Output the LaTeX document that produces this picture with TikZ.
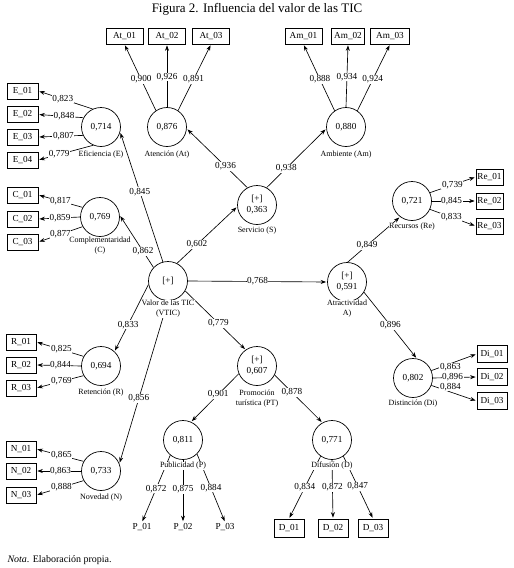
\documentclass[tikz,border=0pt]{standalone}
\usepackage{fontspec}
\setmainfont{Liberation Serif}
\usetikzlibrary{arrows.meta}
\pgfdeclarelayer{back}
\pgfdeclarelayer{bg}
\pgfsetlayers{back,bg,main}
\begin{document}
\begin{tikzpicture}[x=1pt,y=-1pt,
  lv/.style={circle,draw,line width=0.7pt,minimum size=39pt,inner sep=0pt,font=\fontsize{9.2}{11}\selectfont,align=center},
  ind/.style={draw,line width=0.7pt,minimum height=16pt,inner sep=1.5pt,font=\fontsize{9.2}{10}\selectfont},
  ind2/.style={inner sep=1pt,font=\fontsize{9.2}{10}\selectfont},
  ld/.style={fill=white,inner sep=0.6pt,font=\fontsize{9.2}{10}\selectfont},
  cl/.style={fill=white,inner sep=0.5pt,font=\fontsize{8}{10}\selectfont,align=center},
  arr/.style={-{Stealth[length=5.5pt,width=4pt]},line width=0.65pt,shorten >=1pt},
]
\useasboundingbox (0,0) rectangle (514,568);
\begin{pgfonlayer}{back}
\fill[white] (0,0) rectangle (514,568);
\end{pgfonlayer}

\node[font=\fontsize{13}{15}\selectfont] (title) at (257,9) {Figura 2. Influencia del valor de las TIC};

% latent variables
\node[lv] (At) at (167,127) {0,876};
\node[lv] (Am) at (346,127) {0,880};
\node[lv] (E) at (101,127) {0,714};
\node[lv] (C) at (100,217) {0,769};
\node[lv] (V) at (168,281) {[+]};
\node[lv] (S) at (257,205) {[+]\\0,363};
\node[lv] (Re) at (412,201) {0,721};
\node[lv] (A) at (347,282) {[+]\\0,591};
\node[lv] (Di) at (413,378) {0,802};
\node[lv] (PT) at (257,366) {[+]\\0,607};
\node[lv] (P) at (183,440) {0,811};
\node[lv] (D) at (332,440) {0,771};
\node[lv] (R) at (101,366) {0,694};
\node[lv] (N) at (101,471) {0,733};

% indicators
\node[ind,minimum width=37pt] (At1) at (124.5,36) {At\_01};
\node[ind,minimum width=37pt] (At2) at (167,36) {At\_02};
\node[ind,minimum width=37pt] (At3) at (211,36) {At\_03};
\node[ind,minimum width=37pt] (Am1) at (303.5,36) {Am\_01};
\node[ind,minimum width=33pt] (Am2) at (348,36) {Am\_02};
\node[ind,minimum width=39pt] (Am3) at (390,36) {Am\_03};
\node[ind,minimum width=31pt] (E1) at (22.5,91) {E\_01};
\node[ind,minimum width=31pt] (E2) at (22.5,114.5) {E\_02};
\node[ind,minimum width=31pt] (E3) at (22.5,137) {E\_03};
\node[ind,minimum width=31pt] (E4) at (22.5,160) {E\_04};
\node[ind,minimum width=31pt] (C1) at (22.5,195) {C\_01};
\node[ind,minimum width=31pt] (C2) at (22.5,219) {C\_02};
\node[ind,minimum width=31pt] (C3) at (22.5,242) {C\_03};
\node[ind,minimum width=30pt] (R1) at (21,342) {R\_01};
\node[ind,minimum width=30pt] (R2) at (21,365) {R\_02};
\node[ind,minimum width=30pt] (R3) at (21,388) {R\_03};
\node[ind,minimum width=30pt] (N1) at (21,449) {N\_01};
\node[ind,minimum width=30pt] (N2) at (21,471) {N\_02};
\node[ind,minimum width=30pt] (N3) at (21,495) {N\_03};
\node[ind,minimum width=26pt] (Re1) at (489.5,177) {Re\_01};
\node[ind,minimum width=26pt] (Re2) at (489.5,201) {Re\_02};
\node[ind,minimum width=26pt] (Re3) at (489.5,226) {Re\_03};
\node[ind,minimum width=30pt,minimum height=17pt] (Di1) at (492,354) {Di\_01};
\node[ind,minimum width=30pt,minimum height=17pt] (Di2) at (492,377) {Di\_02};
\node[ind,minimum width=30pt,minimum height=17pt] (Di3) at (492,401) {Di\_03};
\node[ind,minimum width=30pt,minimum height=18pt] (D1) at (289,528) {D\_01};
\node[ind,minimum width=30pt,minimum height=18pt] (D2) at (333,528) {D\_02};
\node[ind,minimum width=30pt,minimum height=18pt] (D3) at (373,528) {D\_03};
\node[ind2] (P1) at (142,527) {P\_01};
\node[ind2] (P2) at (183,527) {P\_02};
\node[ind2] (P3) at (225,527) {P\_03};

% construct labels
\node[cl] (Atl) at (167,155) {Atención (At)};
\node[cl] (Aml) at (346,155) {Ambiente (Am)};
\node[cl] (El) at (101,155) {Eficiencia (E)};
\node[cl] (Cl) at (100,246) {Complementaridad\\(C)};
\node[cl] (Vl) at (168,309) {Valor de las TIC\\(VTIC)};
\node[cl] (Sl) at (257,231) {Servicio (S)};
\node[cl] (Rel) at (412,227) {Recursos (Re)};
\node[cl] (Al) at (347,309) {Atractividad\\A)};
\node[cl] (Dil) at (413,404) {Distinción (Di)};
\node[cl] (PTl) at (257,399) {Promoción\\turística (PT)};
\node[cl] (Pl) at (183,466) {Publicidad (P)};
\node[cl] (Dl) at (332,466) {Difusión (D)};
\node[cl] (Rl) at (101,393) {Retención (R)};
\node[cl] (Nl) at (101,498) {Novedad (N)};

\node[anchor=west,font=\fontsize{10}{12}\selectfont] (nota) at (4,560) {\textit{Nota}. Elaboración propia.};

\begin{pgfonlayer}{bg}
% outer loadings
\draw[arr] (At.124) -- node[ld,pos=.47]{0,900} (At1.south);
\draw[arr] (At.north) -- node[ld,pos=.48]{0,926} (At2.south);
\draw[arr] (At.56) -- node[ld,pos=.47]{0,891} (At3.south);
\draw[arr] (Am.125) -- node[ld,pos=.47]{0,888} (Am1.south);
\draw[arr] (Am.north) -- node[ld,pos=.48]{0,934} (Am2.south);
\draw[arr] (Am.55) -- node[ld,pos=.47]{0,924} (Am3.south);
\draw[arr] (E.115) -- node[ld,pos=.55]{0,823} (E1.east);
\draw[arr] (E.152) -- node[ld,pos=.43]{0,848} (E2.east);
\draw[arr] (E.205) -- node[ld,pos=.44]{0,807} (E3.east);
\draw[arr] (E.247) -- node[ld,pos=.62]{0,779} (E4.east);
\draw[arr] (C.151) -- node[ld,pos=.5]{0,817} (C1.east);
\draw[arr] (C.180) -- node[ld,pos=.48]{0,859} (C2.east);
\draw[arr] (C.209) -- node[ld,pos=.5]{0,877} (C3.east);
\draw[arr] (R.151) -- node[ld,pos=.47]{0,825} (R1.east);
\draw[arr] (R.180) -- node[ld,pos=.46]{0,844} (R2.east);
\draw[arr] (R.209) -- node[ld,pos=.47]{0,769} (R3.east);
\draw[arr] (N.151) -- node[ld,pos=.47]{0,865} (N1.east);
\draw[arr] (N.180) -- node[ld,pos=.46]{0,863} (N2.east);
\draw[arr] (N.209) -- node[ld,pos=.47]{0,888} (N3.east);
\draw[arr] (Re.25) -- node[ld,pos=.49]{0,739} (Re1.west);
\draw[arr] (Re.east) -- node[ld,pos=.45]{0,845} (Re2.west);
\draw[arr] (Re.-25) -- node[ld,pos=.47]{0,833} (Re3.west);
\draw[arr] (Di.22) -- node[ld,pos=.42,yshift=-4pt]{0,863} (Di1.west);
\draw[arr] (Di.east) -- node[ld,pos=.45]{0,896} (Di2.west);
\draw[arr] (Di.-22) -- node[ld,pos=.42,yshift=5pt]{0,884} (Di3.west);
\draw[arr] (P.230) -- node[ld,pos=.5]{0,872} (P1.north);
\draw[arr] (P.south) -- node[ld,pos=.47]{0,875} (P2.north);
\draw[arr] (P.315) -- node[ld,pos=.5]{0,884} (P3.north);
\draw[arr] (D.235) -- node[ld,pos=.5]{0,834} (D1.north);
\draw[arr] (D.south) -- node[ld,pos=.47]{0,872} (D2.north);
\draw[arr] (D.305) -- node[ld,pos=.48]{0,847} (D3.north);
% structural paths
\draw[arr] (V.105) -- node[ld,pos=.54]{0,845} (E.-15);
\draw[arr] (V.137) -- node[ld,pos=.31]{0,862} (C.5);
\draw[arr] (V.63) -- node[ld,pos=.33]{0,602} (S.185);
\draw[arr] (S.119) -- node[ld,pos=.36]{0,936} (At.-5);
\draw[arr] (S.61) -- node[ld,pos=.33]{0,938} (Am.185);
\draw[arr] (V.east) -- node[ld,pos=.5]{0,768} (A.west);
\draw[arr] (A.88) -- node[ld,pos=.37]{0,849} (Re.233);
\draw[arr] (A.-31) -- node[ld,pos=.5]{0,896} (Di.79);
\draw[arr] (V.-30) -- node[ld,pos=.55]{0,779} (PT.125);
\draw[arr] (PT.203) -- node[ld,pos=.43]{0,901} (P.66);
\draw[arr] (PT.-27) -- node[ld,pos=.36]{0,878} (D.119);
\draw[arr] (V.190) -- node[ld,pos=.6]{0,833} (R.47);
\draw[arr] (V.south) -- node[ld,pos=.6]{0,856} (N.22);
\end{pgfonlayer}
\end{tikzpicture}
\end{document}
